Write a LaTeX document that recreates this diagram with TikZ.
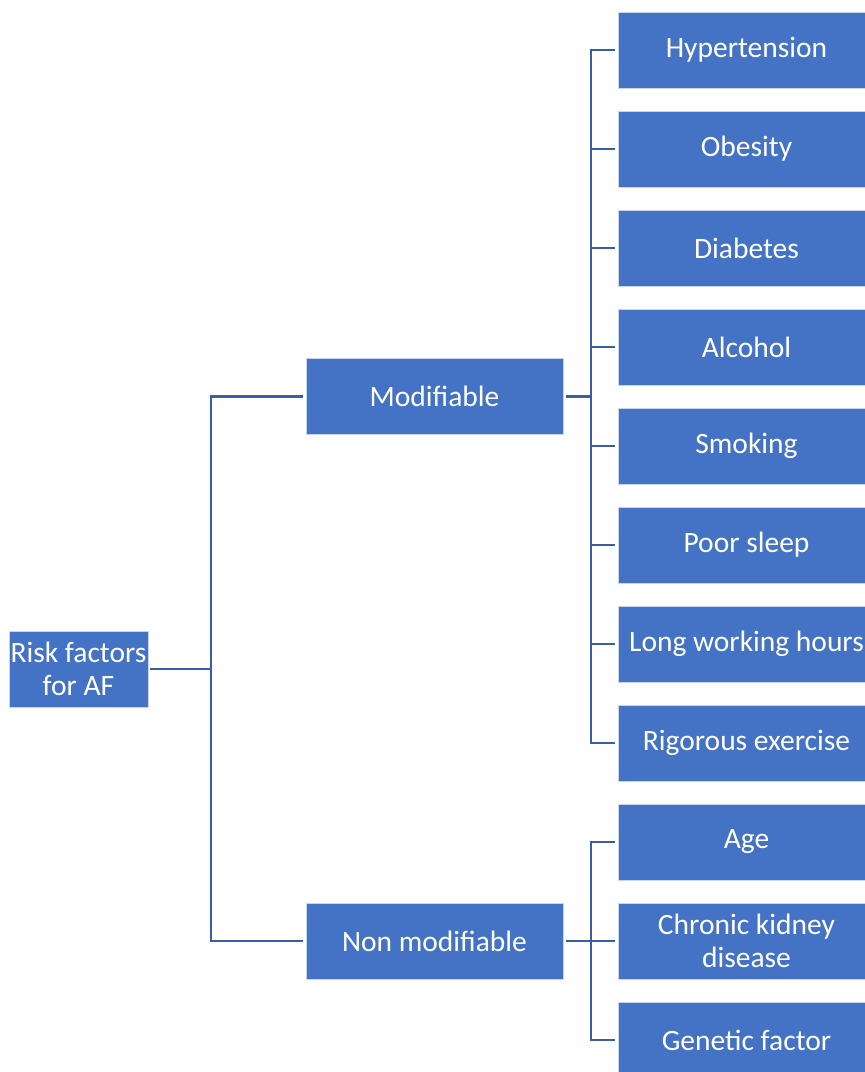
\documentclass[tikz,border=0pt]{standalone}
\usepackage{fontspec}
\setmainfont{Carlito}
\definecolor{boxblue}{RGB}{68,114,196}
\definecolor{lineblue}{RGB}{58,93,166}
\begin{document}
\begin{tikzpicture}[x=1pt,y=-1pt,
  box/.style={rectangle, fill=boxblue, draw=white!70!boxblue, line width=0.6pt, text=white,
    minimum width=257pt, minimum height=76pt, inner sep=1pt, align=center,
    font=\fontsize{29.5}{33}\selectfont},
  rootbox/.style={box, minimum width=139pt},
  conn/.style={draw=lineblue, line width=2.8pt},
]
\useasboundingbox (0,0) rectangle (865,1072);
\clip (0,0) rectangle (865,1072);

\node[rootbox] (root) at (78.5,669) {Risk factors\\for AF};
\node[box] (mod) at (434.5,396.5) {Modifiable};
\node[box] (non) at (434.5,941) {Non modifiable};

\node[box] (l1) at (746.5,50) {Hypertension};
\node[box] (l2) at (746.5,149) {Obesity};
\node[box] (l3) at (746.5,248) {Diabetes};
\node[box] (l4) at (746.5,347) {Alcohol};
\node[box] (l5) at (746.5,446) {Smoking};
\node[box] (l6) at (746.5,545) {Poor sleep};
\node[box] (l7) at (746.5,644) {Long working hours};
\node[box] (l8) at (746.5,743) {Rigorous exercise};
\node[box] (l9) at (746.5,842) {Age};
\node[box] (l10) at (746.5,941) {Chronic kidney\\disease};
\node[box] (l11) at (746.5,1040) {Genetic factor};

\coordinate (j0) at (211,669);
\coordinate (j1) at (591,396.5);
\coordinate (j2) at (591,941);

\draw[conn, shorten <=2pt] (root.east) -- (j0);
\draw[conn, shorten >=3pt] (j0) |- (mod.west);
\draw[conn, shorten >=3pt] (j0) |- (non.west);

\draw[conn, shorten <=3pt] (mod.east) -- (j1);
\foreach \n in {l1,l2,l3,l4,l5,l6,l7,l8}
  \draw[conn, shorten >=3pt] (j1) |- (\n.west);

\draw[conn, shorten <=3pt] (non.east) -- (j2);
\foreach \n in {l9,l10,l11}
  \draw[conn, shorten >=3pt] (j2) |- (\n.west);
\end{tikzpicture}
\end{document}
